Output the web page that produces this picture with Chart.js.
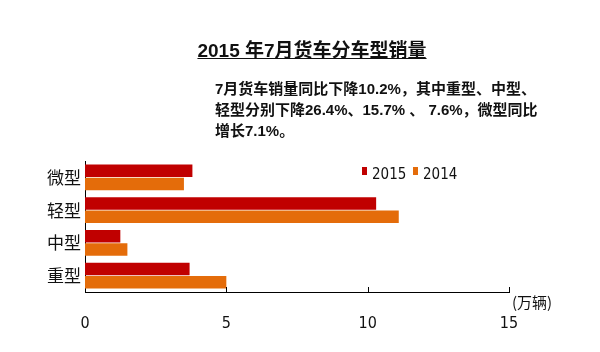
<!DOCTYPE html>
<html>
<head>
<meta charset="utf-8">
<script src="https://cdn.jsdelivr.net/npm/chart.js@4"></script>
<style>
  body { margin: 0; background: #fff; }
  #wrap { position: relative; width: 600px; height: 352px; }
  #chart { position: absolute; left: 0; top: 0; }
  .title { position: absolute; left: 12px; width: 600px; top: 35px; text-align: center;
    font: bold 19px "Liberation Sans", "Noto Sans CJK SC", sans-serif; color: #111; }
  .title span { text-decoration: underline; }
  .note { position: absolute; left: 215px; white-space: nowrap;
    font: bold 15px "Liberation Sans", "Noto Sans CJK SC", sans-serif; color: #111; }
  .unit { position: absolute; left: 512px; top: 291px;
    font: 15px "Noto Sans CJK SC", sans-serif; color: #111; }
</style>
</head>
<body>
<div id="wrap">
  <canvas id="chart" width="600" height="352"></canvas>
  <div class="title"><span>2015 年7月货车分车型销量</span></div>
  <div class="note" style="top:77px">7月货车销量同比下降10.2%，其中重型、中型、</div>
  <div class="note" style="top:98px">轻型分别下降26.4%、15.7% 、 7.6%，微型同比</div>
  <div class="note" style="top:119px">增长7.1%。</div>
  <div class="unit">(万辆)</div>
</div>
<script>
// Data (万辆)
const categories = ['微型', '轻型', '中型', '重型'];
const sales2015 = [3.8, 10.3, 1.25, 3.7];
const sales2014 = [3.5, 11.1, 1.5, 5.0];
const xTicks = [0, 5, 10, 15];

const narrow = '"DejaVu Sans Condensed", "Liberation Sans Narrow", sans-serif';

// small legend squares + inward tick marks
const extras = {
    id: 'extras',
    afterDraw(chart) {
        const ctx = chart.ctx;
        const x = chart.scales.x;
        const area = chart.chartArea;
        ctx.save();
        ctx.strokeStyle = '#000';
        ctx.lineWidth = 1;
        xTicks.slice(1).forEach(v => {
            const px = Math.round(x.getPixelForValue(v)) + 0.5;
            ctx.beginPath();
            ctx.moveTo(px, area.bottom);
            ctx.lineTo(px, area.bottom - 5);
            ctx.stroke();
        });
        // legend
        let lx = 362;
        const ly = 175;
        ctx.font = '15px ' + narrow;
        ctx.textBaseline = 'middle';
        chart.data.datasets.forEach(ds => {
            ctx.fillStyle = ds.backgroundColor;
            ctx.fillRect(lx, ly - 8, 5, 8);
            ctx.fillStyle = '#111';
            ctx.fillText(ds.label, lx + 10, ly);
            lx += 51;
        });
        ctx.restore();
    }
};

new Chart(document.getElementById('chart'), {
    type: 'bar',
    data: {
        labels: categories,
        datasets: [
            { label: '2015', data: sales2015, backgroundColor: '#C00000' },
            { label: '2014', data: sales2014, backgroundColor: '#E46C0A' }
        ]
    },
    options: {
        indexAxis: 'y',
        responsive: false,
        animation: false,
        categoryPercentage: 0.8,
        barPercentage: 0.96,
        layout: { padding: { left: 0, right: 91, top: 161, bottom: 0 } },
        plugins: {
            legend: { display: false },
            tooltip: { enabled: false }
        },
        scales: {
            x: {
                min: 0,
                max: 15,
                afterBuildTicks: s => { s.ticks = xTicks.map(v => ({ value: v })); },
                afterFit: s => { s.height = 60; },
                grid: { display: false, drawTicks: false },
                border: { display: true, color: '#000', width: 1 },
                ticks: { padding: 22, color: '#111', font: { family: narrow, size: 16 } }
            },
            y: {
                afterFit: s => { s.width = 85; },
                grid: { display: false, drawTicks: false },
                border: { display: true, color: '#000', width: 1 },
                ticks: { padding: 4, color: '#111', font: { family: '"Noto Sans CJK SC", sans-serif', size: 17 } }
            }
        }
    },
    plugins: [extras]
});
</script>
</body>
</html>
